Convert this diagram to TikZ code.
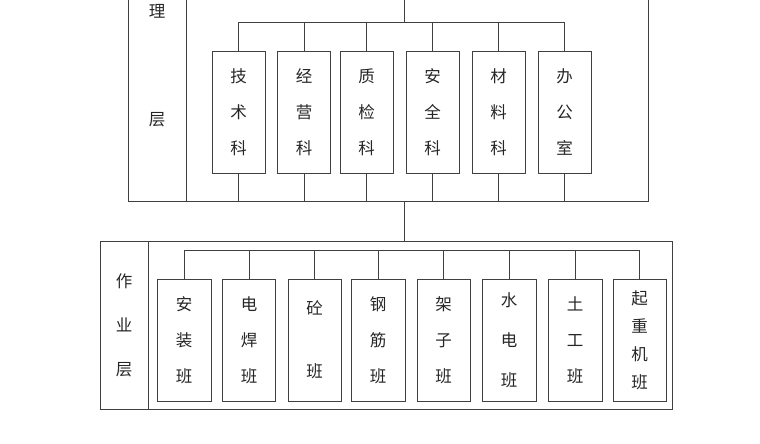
\documentclass[tikz,border=0pt]{standalone}
\usepackage{fontspec}
\newfontfamily\cjk{Noto Sans CJK SC}
\usetikzlibrary{positioning}

\tikzset{
  wire/.style={draw=black!75, line width=0.9pt},
  deptbox/.style={wire, minimum width=53pt, minimum height=122pt, inner sep=0pt,
    align=center, text=black!85, font=\cjk\fontsize{16.5}{36}\selectfont},
  layertext/.style={align=center, text=black!85, font=\cjk\fontsize{16.5}{44}\selectfont}
}

\begin{document}
\begin{tikzpicture}[x=1pt, y=-1pt]
    \useasboundingbox (0,0) rectangle (760,444);
    % management layer frame (top cut off)
    \draw [wire] (128,0) -- (128,201) -- (648,201) -- (648,0);
    \draw [wire] (186,0) -- (186,201);
    \node [layertext] (li) at (157,11) {理};
    \node [layertext] (ceng) at (157,120) {层};
    % departments
    \node [deptbox] (t1) at (238.5,112) {技\\术\\科};
    \node [deptbox] (t2) at (304,112) {经\\营\\科};
    \node [deptbox] (t3) at (366.5,112) {质\\检\\科};
    \node [deptbox] (t4) at (432.5,112) {安\\全\\科};
    \node [deptbox] (t5) at (498.5,112) {材\\料\\科};
    \node [deptbox] (t6) at (564.5,112) {办\\公\\室};
    \coordinate (ttop) at (404,0);
    \coordinate (tbus) at (404,22);
    \coordinate (tbase) at (404,201);
    \draw [wire] (ttop) -- (tbus);
    \draw [wire] (t1.north |- tbus) -- (t6.north |- tbus);
    \draw [wire] (t1.north) -- (t1.north |- tbus);
    \draw [wire] (t2.north) -- (t2.north |- tbus);
    \draw [wire] (t3.north) -- (t3.north |- tbus);
    \draw [wire] (t4.north) -- (t4.north |- tbus);
    \draw [wire] (t5.north) -- (t5.north |- tbus);
    \draw [wire] (t6.north) -- (t6.north |- tbus);
    \draw [wire] (t1.south) -- (t1.south |- tbase);
    \draw [wire] (t2.south) -- (t2.south |- tbase);
    \draw [wire] (t3.south) -- (t3.south |- tbase);
    \draw [wire] (t4.south) -- (t4.south |- tbase);
    \draw [wire] (t5.south) -- (t5.south |- tbase);
    \draw [wire] (t6.south) -- (t6.south |- tbase);
    % work layer frame
    \node [wire, minimum width=572pt, minimum height=168pt, inner sep=0pt] (work) at (386,325) {};
    \node [wire, layertext, minimum width=48pt, minimum height=168pt, inner sep=0pt] (zuoye) at (124,325) {作\\业\\层};
    \draw [wire] (tbase) -- (tbase |- work.north);
    % crews
    \node [deptbox, minimum width=54pt] (w1) at (184,340) {安\\装\\班};
    \node [deptbox] (w2) at (249,340) {电\\焊\\班};
    \node [deptbox] (w3) at (314.5,340) {砼\\[27pt]班};
    \node [deptbox, minimum width=54pt] (w4) at (378,340) {钢\\筋\\班};
    \node [deptbox] (w5) at (443.5,340) {架\\子\\班};
    \node [deptbox, minimum width=54pt] (w6) at (509,340) {水\\[4pt]电\\[4pt]班};
    \node [deptbox, minimum width=54pt] (w7) at (575,340) {土\\工\\班};
    \node [deptbox, font=\cjk\fontsize{16.5}{28}\selectfont] (w8) at (639.5,340) {起\\重\\机\\班};
    \coordinate (wbus) at (404,250);
    \draw [wire] (w1.north |- wbus) -- (w8.north |- wbus);
    \draw [wire] (w1.north) -- (w1.north |- wbus);
    \draw [wire] (w2.north) -- (w2.north |- wbus);
    \draw [wire] (w3.north) -- (w3.north |- wbus);
    \draw [wire] (w4.north) -- (w4.north |- wbus);
    \draw [wire] (w5.north) -- (w5.north |- wbus);
    \draw [wire] (w6.north) -- (w6.north |- wbus);
    \draw [wire] (w7.north) -- (w7.north |- wbus);
    \draw [wire] (w8.north) -- (w8.north |- wbus);
  \end{tikzpicture}
\end{document}
